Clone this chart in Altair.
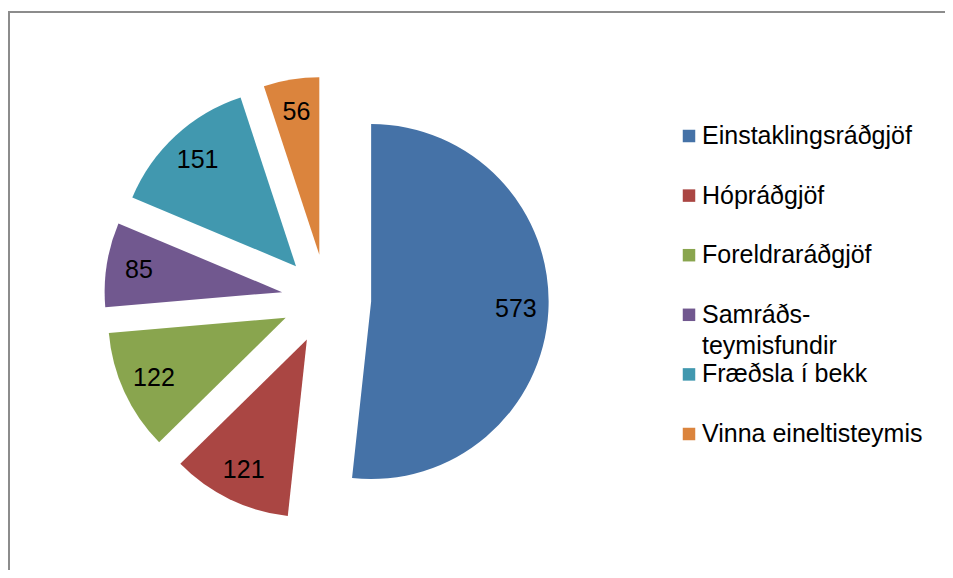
import altair as alt
import pandas as pd

# ---- data ----
categories = ["Einstaklingsráðgjöf", "Hópráðgjöf", "Foreldraráðgjöf",
              "Samráðs-teymisfundir", "Fræðsla í bekk", "Vinna eineltisteymis"]
legend_labels = ["Einstaklingsráðgjöf", "Hópráðgjöf", "Foreldraráðgjöf",
                 "Samráðs-\nteymisfundir", "Fræðsla í bekk", "Vinna eineltisteymis"]
values = [573, 121, 122, 85, 151, 56]
colors = ["#4572A7", "#AA4643", "#89A54E", "#71588F", "#4198AF", "#DB843D"]

# ---- layout (pixels inside the view) ----
W, H = 937, 562
CX0, CY0 = 318.4, 291.1     # pie centre before explosion
R = 177.5                   # radius
D = 44.8                    # explosion distance
LR = 145                    # label distance from slice centre
LEG_X, LEG_Y0, LEG_DY = 681, 128, 59.6
FONT = "Liberation Sans"

df = pd.DataFrame({"cat": categories, "value": values,
                   "order": list(range(len(values))), "legend": legend_labels})

base = alt.Chart(df).transform_joinaggregate(
    total="sum(value)"
).transform_window(
    cum="sum(value)", sort=[alt.SortField("order")], frame=[None, 0]
).transform_calculate(
    a1="2*PI*datum.cum/datum.total",
    a0="2*PI*(datum.cum-datum.value)/datum.total",
).transform_calculate(
    mid="(datum.a0+datum.a1)/2"
).transform_calculate(
    cx=f"{CX0}+{D}*sin(datum.mid)",
    cy=f"{CY0}-{D}*cos(datum.mid)",
).transform_calculate(
    lx=f"datum.cx+{LR}*sin(datum.mid)",
    ly=f"datum.cy-{LR}*cos(datum.mid)",
    legy=f"{LEG_Y0}+{LEG_DY}*datum.order",
)

color = alt.Color("cat:N", scale=alt.Scale(domain=categories, range=colors), legend=None)

arcs = base.mark_arc(outerRadius=R).encode(
    x=alt.X("cx:Q", scale=None, axis=None),
    y=alt.Y("cy:Q", scale=None, axis=None),
    theta=alt.Theta("a0:Q", scale=None, stack=None),
    theta2="a1:Q",
    color=color,
)

labels = base.mark_text(font=FONT, fontSize=25, color="#000000").encode(
    x=alt.X("lx:Q", scale=None, axis=None),
    y=alt.Y("ly:Q", scale=None, axis=None),
    text="value:Q",
)

leg_sq = base.mark_square(size=156, opacity=1).encode(
    x=alt.value(LEG_X),
    y=alt.Y("legy:Q", scale=None, axis=None),
    color=color,
)

leg_txt = base.mark_text(font=FONT, fontSize=25, color="#000000", align="left",
                         baseline="alphabetic", lineBreak="\n", lineHeight=31,
                         dy=8).encode(
    x=alt.value(LEG_X + 13),
    y=alt.Y("legy:Q", scale=None, axis=None),
    text="legend:N",
)

one = pd.DataFrame({"a": [0]})
border_left = alt.Chart(one).mark_rule(color="#8c8c8c", strokeWidth=2).encode(
    x=alt.value(1), y=alt.value(3), y2=alt.value(H)
)
border_top = alt.Chart(one).mark_rule(color="#8c8c8c", strokeWidth=2).encode(
    x=alt.value(0), x2=alt.value(W), y=alt.value(4)
)

chart = alt.layer(border_left, border_top, arcs, labels, leg_sq, leg_txt).properties(
    width=W, height=H, padding=0, autosize="none"
).configure_view(stroke=None)

chart.save("out.html", embed_options={"renderer": "svg", "actions": False})
